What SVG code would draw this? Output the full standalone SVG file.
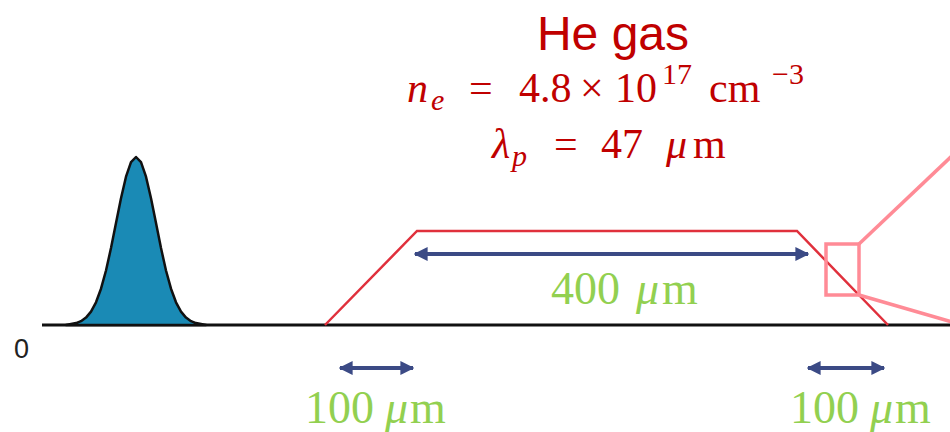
<svg xmlns="http://www.w3.org/2000/svg" width="950" height="432" viewBox="0 0 950 432">
<defs>
<style>
.title{font-family:"Liberation Sans",Arial,sans-serif;font-size:48px;fill:#c00000}
.zero{font-family:"Liberation Sans",Arial,sans-serif;font-size:27px;fill:#222}
.math{font-family:"Liberation Serif","DejaVu Serif",serif;fill:#c00000;font-size:42px}
.it{font-style:italic}
.sub{font-size:30px}
.green{font-family:"Liberation Serif","DejaVu Serif",serif;fill:#92d050;font-size:46px}
.dim{stroke:#3b4a85;stroke-width:4;fill:none}
.axis{stroke:#111;stroke-width:3;fill:none}
.gas{stroke:#e0303c;stroke-width:2.5;fill:none}
.zoom{stroke:#ff8b96;stroke-width:3.5;fill:none}
</style>
<marker id="ah" viewBox="0 0 10 10" refX="9" refY="5" markerWidth="3.5" markerHeight="3.5" orient="auto-start-reverse" markerUnits="strokeWidth">
<path d="M0,0 L10,5 L0,10 Z" fill="#3b4a85"/>
</marker>
</defs>
<rect width="950" height="432" fill="#fff"/>
<g id="axis">
<line class="axis" x1="42" y1="325" x2="950" y2="325"/>
<text class="zero" x="14" y="358">0</text>
</g>
<g id="pulse">
<path d="M66,325 L71,324.1 76,323.1 81,321.2 86,317.6 91,311.6 96,302.3 101,288.7 106,270.5 111,248.1 116,223.1 121,198.2 126,176.7 131,162.2 136,157 141,162.2 146,176.7 151,198.2 156,223.1 161,248.1 166,270.5 171,288.7 176,302.3 181,311.6 186,317.6 191,321.2 196,323.1 201,324.1 206,325 Z" fill="#1a8ab5" stroke="#111" stroke-width="2.5" stroke-linejoin="round"/>
</g>
<g id="gas-profile">
<polyline class="gas" points="325,325 417,231 797,231 888,325"/>
</g>
<g id="zoom-box">
<rect class="zoom" x="826" y="244" width="33" height="51"/>
<line class="zoom" x1="859" y1="244" x2="955" y2="153"/>
<line class="zoom" x1="859" y1="295" x2="952" y2="322"/>
</g>
<g id="labels">
<text class="title" x="613" y="50" text-anchor="middle">He gas</text>
<text class="math"><tspan class="it" x="407" y="102">n</tspan><tspan class="it sub" x="431" y="110">e</tspan><tspan x="469" y="102">=</tspan><tspan x="519" y="102">4.8</tspan><tspan x="580" y="102">×</tspan><tspan x="615" y="102">10</tspan><tspan class="sub" x="662" y="84">17</tspan><tspan x="709" y="102">cm</tspan><tspan class="sub" x="772" y="84">−3</tspan></text>
<text class="math"><tspan class="it" x="492" y="158">λ</tspan><tspan class="it sub" x="512" y="166">p</tspan><tspan x="554" y="158">=</tspan><tspan x="601" y="158">47</tspan><tspan class="it" x="666" y="158">μ</tspan><tspan x="693" y="158">m</tspan></text>
<text class="green"><tspan x="551" y="304">400</tspan><tspan class="it" x="636" y="304">μ</tspan><tspan x="662" y="304">m</tspan></text>
<text class="green"><tspan x="305" y="423">100</tspan><tspan class="it" x="385" y="423">μ</tspan><tspan x="410" y="423">m</tspan></text>
<text class="green"><tspan x="790" y="423">100</tspan><tspan class="it" x="870" y="423">μ</tspan><tspan x="895" y="423">m</tspan></text>
</g>
<g id="connectors">
<line class="dim" x1="415" y1="254" x2="808" y2="254" marker-start="url(#ah)" marker-end="url(#ah)"/>
<line class="dim" x1="340" y1="368" x2="413" y2="368" marker-start="url(#ah)" marker-end="url(#ah)"/>
<line class="dim" x1="808" y1="368" x2="884" y2="368" marker-start="url(#ah)" marker-end="url(#ah)"/>
</g>
</svg>
